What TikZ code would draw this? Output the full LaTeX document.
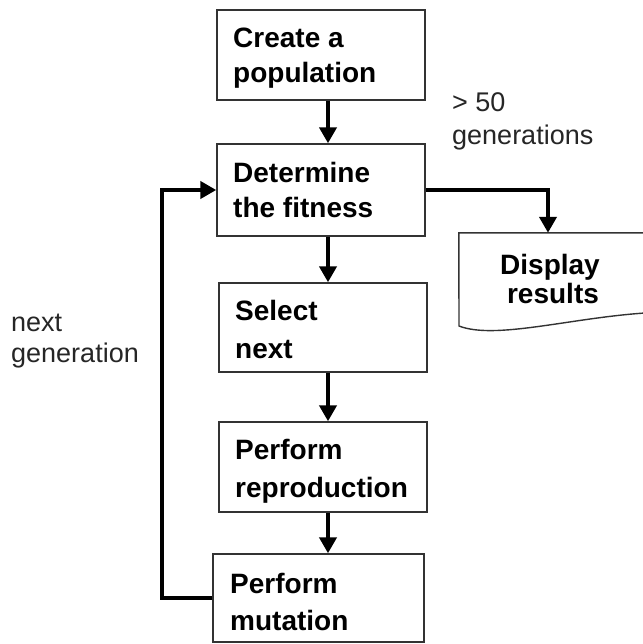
\documentclass[tikz,border=0pt]{standalone}
\usepackage{fontspec}
\setmainfont{Liberation Sans}
\usetikzlibrary{arrows.meta}
\begin{document}
\begin{tikzpicture}[x=1pt,y=-1pt,
  procbox/.style={draw=black!80,line width=1.4pt,rectangle,inner sep=0pt},
  boxtext/.style={anchor=base west,inner sep=0pt,font=\fontsize{28}{34}\selectfont\bfseries},
  disptext/.style={anchor=base,inner sep=0pt,font=\fontsize{28}{34}\selectfont\bfseries},
  labeltext/.style={anchor=base west,inner sep=0pt,text=black!85,font=\fontsize{27}{32}\selectfont},
  flow/.style={line width=4.5pt,-{Triangle[length=16pt,width=17pt]}},
  plainflow/.style={line width=4.5pt}]
\useasboundingbox (0,0) rectangle (642,644);
\fill[white] (0,0) rectangle (642,644);

% boxes
\node[procbox,minimum width=208pt,minimum height=90pt] (create) at (321,55) {};
\node[procbox,minimum width=208pt,minimum height=92pt] (fit) at (321,190) {};
\node[procbox,minimum width=208pt,minimum height=89pt] (select) at (323,327.5) {};
\node[procbox,minimum width=208pt,minimum height=90pt] (repro) at (323,467) {};
\node[procbox,minimum width=211pt,minimum height=88pt] (mut) at (318.5,598) {};
\node[minimum width=186pt,minimum height=97pt,inner sep=0pt] (disp) at (552,281.5) {};

% document shape
\draw[draw=black!80,line width=1.4pt] (disp.north east) -- (disp.north west) -- (459,326)
  .. controls (495,340) and (570,318) .. (645,313);

% texts
\node[boxtext] (t1a) at (233,48) {Create a};
\node[boxtext] (t1b) at (233,83) {population};
\node[boxtext] (t2a) at (233,183) {Determine};
\node[boxtext] (t2b) at (233,217) {the fitness};
\node[boxtext] (t3a) at (235,320) {Select};
\node[boxtext] (t3b) at (235,358) {next};
\node[boxtext] (t4a) at (235,459) {Perform};
\node[boxtext] (t4b) at (235,497) {reproduction};
\node[boxtext] (t5a) at (230,593) {Perform};
\node[boxtext] (t5b) at (230,630) {mutation};
\node[disptext] (d1) at (550,274) {Display};
\node[disptext] (d2) at (553,303) {results};

\node[labeltext] (l1a) at (452,112) {> 50};
\node[labeltext] (l1b) at (452,145) {generations};
\node[labeltext] (l2a) at (11,331) {next};
\node[labeltext] (l2b) at (11,362) {generation};

% connectors
\coordinate (ax) at (328,0);
\coordinate (fbx) at (162,0);
\coordinate (dx) at (548,0);
\draw[flow] (create.south -| ax) -- (fit.north -| ax);
\draw[flow] (fit.south -| ax) -- (select.north -| ax);
\draw[flow] (select.south -| ax) -- (repro.north -| ax);
\draw[flow] (repro.south -| ax) -- (mut.north -| ax);
\draw[flow] (fit.east) -- (fit.east -| dx) -- (disp.north -| dx);
\draw[flow] (mut.west) -- (mut.west -| fbx) -- (fit.west -| fbx) -- (fit.west);
\end{tikzpicture}
\end{document}
